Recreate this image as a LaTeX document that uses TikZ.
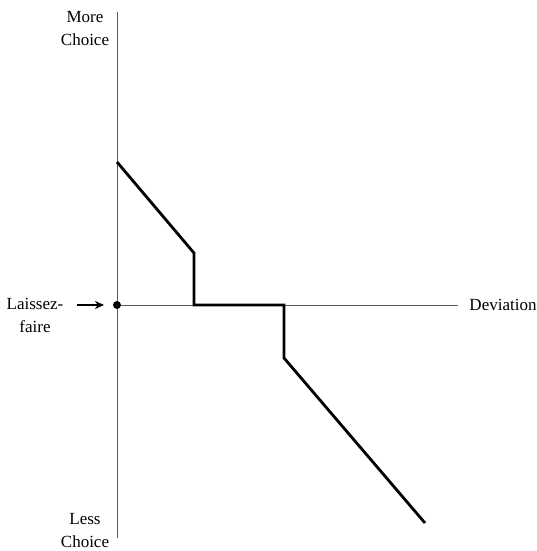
\documentclass[tikz,border=0pt]{standalone}
\usepackage{fontspec}
\setmainfont{Liberation Serif}
\usetikzlibrary{arrows.meta}
\tikzset{
  axisline/.style={gray!70!black,line width=0.8pt},
  pathline/.style={black,line width=2.8pt,line join=miter},
  lbl/.style={font=\fontsize{17}{23}\selectfont,align=center,inner sep=0pt}
}
\begin{document}
\begin{tikzpicture}[x=1pt,y=-1pt]
    \useasboundingbox (0,0) rectangle (537,551);
    % axes
    \coordinate (top) at (117,12);
    \coordinate (bottom) at (117,538);
    \coordinate (origin) at (117,305);
    \coordinate (right) at (458,305);
    \draw[axisline] (top) -- (bottom);
    \draw[axisline] (origin) -- (right);
    % labels
    \node[lbl] (more) at (85,29) {More\\Choice};
    \node[lbl] (less) at (85,531) {Less\\Choice};
    \node[lbl] (dev) at (503,305) {Deviation};
    \node[lbl] (lf) at (35,315) {Laissez-\\faire};
    % marker at laissez-faire point
    \fill (origin) circle (4);
    \coordinate (arrstart) at (77,305);
    \coordinate (arrend) at (104,305);
    \draw[line width=1.6pt,-{Stealth[length=9pt,width=8pt]}] (arrstart) -- (arrend);
    % deviation path
    \draw[pathline] (117,162) -- (194,253) -- (194,305) -- (284,305) -- (284,358) -- (425,523);
\end{tikzpicture}
\end{document}
